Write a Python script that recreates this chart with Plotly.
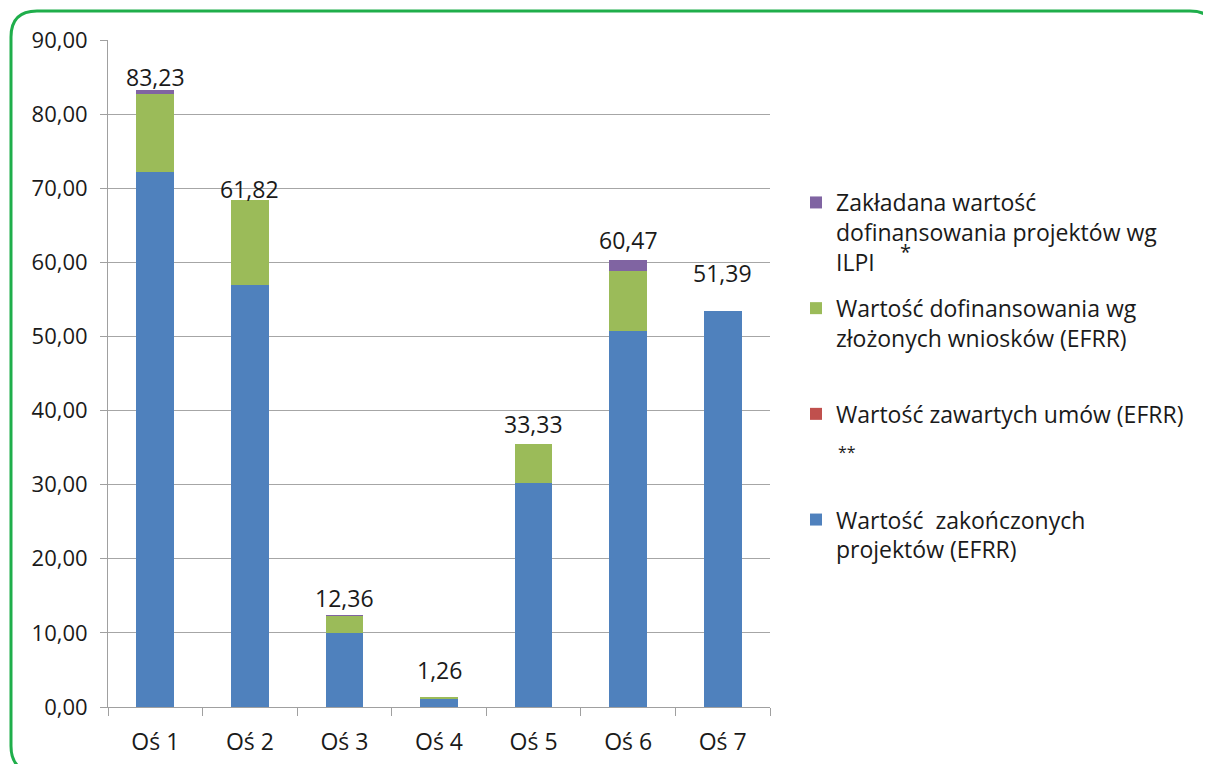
import plotly.graph_objects as go

# ---------------- data ----------------
categories = ["Oś 1", "Oś 2", "Oś 3", "Oś 4", "Oś 5", "Oś 6", "Oś 7"]
completed = [72.2, 56.9, 10.0, 1.2, 30.2, 50.8, 53.4]      # Wartość zakończonych projektów (EFRR)
contracts = [0, 0, 0, 0, 0, 0, 0]                          # Wartość zawartych umów (EFRR)
applications = [10.5, 11.5, 2.3, 0.15, 5.3, 8.0, 0]        # Wartość dofinansowania wg złożonych wniosków (EFRR)
planned = [0.6, 0, 0.1, 0, 0, 1.5, 0]                      # Zakładana wartość dofinansowania projektów wg ILPI
label_texts = ["83,23", "61,82", "12,36", "1,26", "33,33", "60,47", "51,39"]

# ---------------- layout constants ----------------
OFF = 8                      # page body margin offset
W, H = 1211 - OFF, 764 - OFF
PL, PR, PT, PB = 108, 770, 40, 707   # plot area in reference pixel coords
L = PL - OFF
T = PT - OFF
PW = PR - PL
PH = PB - PT
R = W - L - PW
B = H - T - PH
FONT = "Open Sans"
TXT = "#1a1a1a"
label_shift = [13, 11, 17, 27, 20, 20, 38]

def xp(px):
    return (px - PL) / PW

def yp(py):
    return (PB - py) / PH

fig = go.Figure()
series = [
    ("Wartość  zakończonych<br>projektów (EFRR)", completed, "#4f81bd", 4),
    ("Wartość zawartych umów (EFRR)<br>\u00a0<br>\u00a0", contracts, "#c0504d", 3),
    ("Wartość dofinansowania wg<br>złożonych wniosków (EFRR)<br>\u00a0", applications, "#9bbb59", 2),
    ("Zakładana wartość<br>dofinansowania projektów wg<br>ILPI", planned, "#8064a2", 1),
]
for i, (name, vals, col, rank) in enumerate(series):
    fig.add_trace(go.Bar(
        x=categories, y=vals, name=name, legendgroup=str(i), legendrank=rank,
        marker=dict(color=col, line=dict(width=0)),
    ))

totals = [a + b + c + d for a, b, c, d in zip(completed, contracts, applications, planned)]
for cat, tot, txt, sh in zip(categories, totals, label_texts, label_shift):
    fig.add_annotation(x=cat, y=tot, text=txt, showarrow=False, yanchor="middle",
                       yshift=sh, font=dict(family=FONT, size=23, color=TXT))

# asterisks in the legend area
fig.add_annotation(x=xp(913), y=yp(236), xref="paper", yref="paper", text="*",
                   showarrow=False, font=dict(family=FONT, size=20, color=TXT))
fig.add_annotation(x=xp(858), y=yp(452), xref="paper", yref="paper", text="**",
                   showarrow=False, font=dict(family=FONT, size=16, color=TXT))

# green rounded frame
x0, y0, x1, y1, r = 11, 11, 1216, 772, 26
pts = [
    ("M", (x0 + r, y0)), ("L", (x1 - r, y0)), ("Q", (x1, y0), (x1, y0 + r)),
    ("L", (x1, y1 - r)), ("Q", (x1, y1), (x1 - r, y1)), ("L", (x0 + r, y1)),
    ("Q", (x0, y1), (x0, y1 - r)), ("L", (x0, y0 + r)), ("Q", (x0, y0), (x0 + r, y0)),
]
path = ""
for cmd, *ps in pts:
    path += cmd + " " + " ".join(f"{xp(a):.5f},{yp(b):.5f}" for a, b in ps) + " "
path += "Z"
fig.add_shape(type="path", path=path, xref="paper", yref="paper",
              line=dict(color="#1fae4b", width=3), fillcolor="rgba(0,0,0,0)", layer="below")

fig.update_layout(
    width=W, height=H,
    margin=dict(l=L, r=R, t=T, b=B),
    barmode="stack", bargap=0.6,
    separators=", ",
    plot_bgcolor="white", paper_bgcolor="white",
    font=dict(family=FONT, color=TXT),
    showlegend=True,
    legend=dict(
        x=xp(796), y=yp(181), xanchor="left", yanchor="top",
        traceorder="grouped", tracegroupgap=13, valign="top",
        font=dict(family=FONT, size=23, color=TXT),
        bgcolor="rgba(0,0,0,0)", itemwidth=30,
    ),
    xaxis=dict(
        automargin=False,
        showline=True, linecolor="#a0a0a0", linewidth=1,
        ticks="outside", tickson="boundaries", ticklen=8, tickcolor="#a0a0a0",
        ticklabelstandoff=14,
        tickfont=dict(family=FONT, size=23, color=TXT), showgrid=False,
    ),
    yaxis=dict(
        automargin=False,
        range=[0, 90], dtick=10, tickformat=".2f",
        showline=True, linecolor="#a0a0a0", linewidth=1,
        ticks="outside", ticklen=7, tickcolor="#a0a0a0",
        ticklabelstandoff=8,
        showgrid=True, gridcolor="#a6a6a6", gridwidth=1,
        tickfont=dict(family=FONT, size=22, color=TXT), zeroline=False,
    ),
)

fig.write_html("out.html")
